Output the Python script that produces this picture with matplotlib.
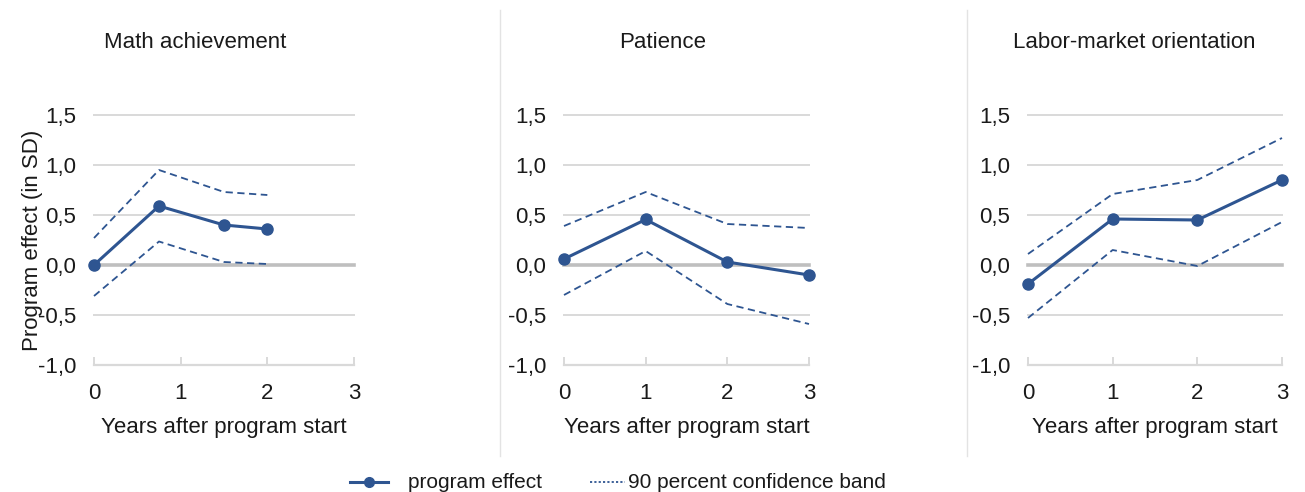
import matplotlib
matplotlib.use("Agg")
import matplotlib.pyplot as plt
from matplotlib.lines import Line2D
from matplotlib.ticker import FuncFormatter

plt.rcParams['font.family'] = ['Liberation Sans', 'DejaVu Sans']

titles = ["Math achievement", "Patience", "Labor-market orientation"]

math_x = [0, 0.75, 1.5, 2]
math_effect = [0.0, 0.59, 0.40, 0.36]
math_upper = [0.27, 0.95, 0.73, 0.70]
math_lower = [-0.31, 0.235, 0.03, 0.01]

pat_x = [0, 1, 2, 3]
pat_effect = [0.06, 0.455, 0.03, -0.10]
pat_upper = [0.39, 0.73, 0.41, 0.37]
pat_lower = [-0.30, 0.14, -0.39, -0.59]

lab_x = [0, 1, 2, 3]
lab_effect = [-0.19, 0.46, 0.45, 0.85]
lab_upper = [0.11, 0.71, 0.85, 1.27]
lab_lower = [-0.53, 0.15, -0.01, 0.43]

xticks = [0, 1, 2, 3]
yticks = [-1.0, -0.5, 0.0, 0.5, 1.0, 1.5]

panels = [
    (math_x, math_effect, math_upper, math_lower),
    (pat_x, pat_effect, pat_upper, pat_lower),
    (lab_x, lab_effect, lab_upper, lab_lower),
]

W, H = 1305, 492
fig = plt.figure(figsize=(W / 100, H / 100), dpi=100)

blue = "#2E5591"
grid_c = "#D9D9D9"
zero_c = "#BFBFBF"
txt_c = "#1A1A1A"
fs = 16
fs_leg = 15

# pixel positions of each panel: (x at 0, x at 3)
px = [(94, 354), (564, 809), (1028, 1282)]
y_top, y_bot = 115, 365
title_cx = [195, 663, 1134]

fmt = FuncFormatter(lambda v, p: f"{v:.1f}".replace('.', ','))

for i, ((x, eff, up, lo), (x0, x1)) in enumerate(zip(panels, px)):
    ax = fig.add_axes([x0 / W, 1 - y_bot / H, (x1 - x0) / W, (y_bot - y_top) / H])
    ax.set_xlim(0, 3)
    ax.set_ylim(-1.0, 1.5)
    for s in ax.spines.values():
        s.set_visible(False)
    for yv in yticks:
        if yv == 0.0:
            ax.axhline(yv, color=zero_c, lw=2.6, zorder=1, clip_on=False)
        elif yv == -1.0:
            ax.axhline(yv, color=grid_c, lw=1.6, zorder=1, clip_on=False)
        else:
            ax.axhline(yv, color=grid_c, lw=1.4, zorder=1, clip_on=False)
    ax.set_yticks(yticks)
    ax.yaxis.set_major_formatter(fmt)
    ax.set_xticks(xticks)
    ax.tick_params(axis='y', length=0, pad=13, labelsize=fs, labelcolor=txt_c)
    ax.tick_params(axis='x', direction='in', length=6, width=1.4, color=grid_c,
                   pad=13, labelsize=fs, labelcolor=txt_c)
    ax.plot(x, up, color=blue, lw=1.3, ls=(0, (4, 2.5)), zorder=3, clip_on=False)
    ax.plot(x, lo, color=blue, lw=1.3, ls=(0, (4, 2.5)), zorder=3, clip_on=False)
    ax.plot(x, eff, color=blue, lw=2.2, marker='o', ms=8, zorder=4, clip_on=False)
    ax.set_xlabel("Years after program start", fontsize=fs, color=txt_c, labelpad=9)
    fig.text(title_cx[i] / W, 1 - 42 / H, titles[i], fontsize=fs, color=txt_c,
             ha='center', va='center')

fig.text(33 / W, 1 - 240 / H, "Program effect (in SD)", rotation=90, fontsize=fs,
         color=txt_c, ha='center', va='center')

for sx in [500, 967]:
    fig.add_artist(Line2D([sx / W, sx / W], [1 - 10 / H, 1 - 456 / H],
                          transform=fig.transFigure, color="#E3E3E3", lw=1.0))

ly = 1 - 482 / H
fig.add_artist(Line2D([350 / W, 388 / W], [ly, ly], transform=fig.transFigure,
                      color=blue, lw=2.2))
fig.add_artist(Line2D([369 / W], [ly], transform=fig.transFigure, color=blue,
                      marker='o', ms=7, lw=0))
fig.text(408 / W, ly, "program effect", fontsize=fs_leg, color=txt_c, ha='left', va='center')
fig.add_artist(Line2D([590 / W, 625 / W], [ly, ly], transform=fig.transFigure,
                      color=blue, lw=1.3, ls=(0, (1.2, 1.2))))
fig.text(628 / W, ly, "90 percent confidence band", fontsize=fs_leg, color=txt_c,
         ha='left', va='center')

fig.savefig("out.png", dpi=100)
